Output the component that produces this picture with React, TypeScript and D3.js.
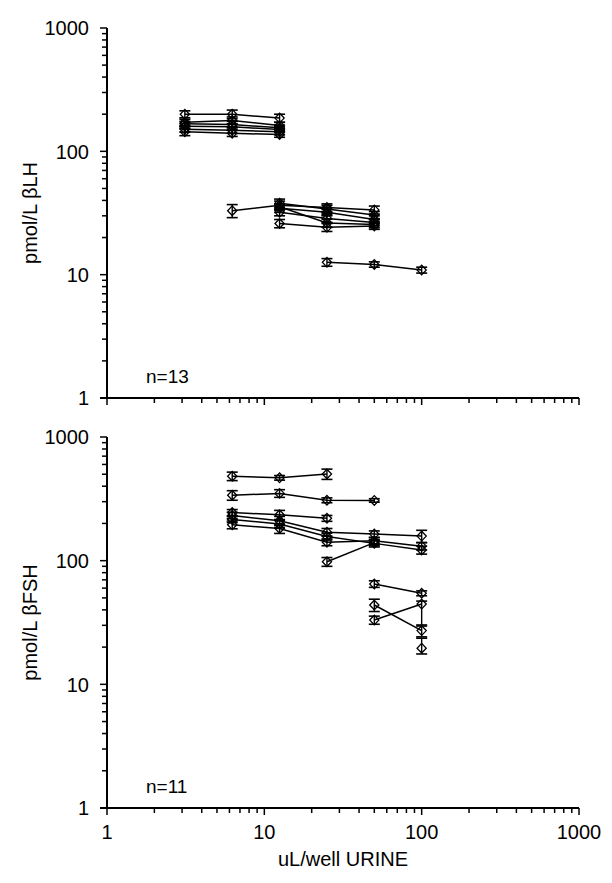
import React from "react";
import * as d3 from "d3";

// Dose levels (uL/well urine)
const doses = [3.125, 6.25, 12.5, 25, 50, 100];

// Panel A: pmol/L betaLH (n=13), values aligned with `doses` (null = not measured)
const lhMeans: (number | null)[][] = [
  [200, 200, 186, null, null, null],
  [172, 178, 162, null, null, null],
  [167, 165, 155, null, null, null],
  [160, 158, 150, null, null, null],
  [151, 148, 144, null, null, null],
  [144, 140, 137, null, null, null],
  [null, 33, 36.5, 35, 33.5, null],
  [null, null, 38, 34, 30.5, null],
  [null, null, 34.5, 32, 28, null],
  [null, null, 32, 28.6, 26.5, null],
  [null, null, 35.5, 26.2, 25.5, null],
  [null, null, 26, 24.2, 24.8, null],
  [null, null, null, 12.6, 12.1, 10.9],
];
const lhErrors: (number | null)[][] = [
  [13, 16, 14, null, null, null],
  [10, 12, 10, null, null, null],
  [8, 10, 8, null, null, null],
  [8, 9, 8, null, null, null],
  [8, 8, 8, null, null, null],
  [10, 8, 7, null, null, null],
  [null, 4, 3, 2.5, 2.5, null],
  [null, null, 3, 2.5, 2, null],
  [null, null, 2.5, 2, 2, null],
  [null, null, 2, 2, 1.5, null],
  [null, null, 2, 2, 1.5, null],
  [null, null, 2, 1.8, 1.5, null],
  [null, null, null, 0.9, 0.6, 0.6],
];

// Panel B: pmol/L betaFSH (n=11)
const fshMeans: (number | null)[][] = [
  [null, 482, 468, 502, null, null],
  [null, 338, 350, 308, 307, null],
  [null, 245, 235, 220, null, null],
  [null, 232, 210, 170, 164, 158],
  [null, 215, 198, 157, 138, 122],
  [null, 195, 182, 141, 145, 131],
  [null, null, null, 98, 140, null],
  [null, null, null, null, 64.8, 54.5],
  [null, null, null, null, 43.8, 27.2],
  [null, null, null, null, 33.1, 44.6],
  [null, null, null, null, null, 19.6],
];
// [lower, upper] error extents
const fshErrors: ([number, number] | null)[][] = [
  [null, [38, 38], [20, 20], [48, 48], null, null],
  [null, [30, 30], [25, 25], [14, 14], [10, 10], null],
  [null, [14, 14], [20, 20], [12, 12], null, null],
  [null, [14, 14], [18, 18], [12, 12], [10, 10], [18, 18]],
  [null, [12, 12], [14, 14], [10, 10], [9, 9], [9, 9]],
  [null, [14, 14], [16, 16], [9, 9], [9, 9], [9, 9]],
  [null, null, null, [8, 8], [8, 8], null],
  [null, null, null, null, [4, 4], [2.5, 2.5]],
  [null, null, null, null, [5, 5], [3, 3]],
  [null, null, null, null, [2.5, 2.5], [15, 2.5]],
  [null, null, null, null, null, [2, 4]],
];

const yTickValues = [1, 10, 100, 1000];
const xTickValues = [1, 10, 100, 1000];
const FONT = "'Liberation Sans', Arial, Helvetica, sans-serif";

const x = d3.scaleLog().domain([1, 1000]).range([107, 579]);

type ErrSpec = number | [number, number] | null;

function Panel(props: {
  top: number;
  bottom: number;
  means: (number | null)[][];
  errors: ErrSpec[][];
  yLabel: string;
  nLabel: string;
  showXLabels: boolean;
}) {
  const { top, bottom, means, errors, yLabel, nLabel, showXLabels } = props;
  const y = d3.scaleLog().domain([1, 1000]).range([bottom, top]);
  const [x0, x1] = x.range();
  const isMajor = (v: number) => Math.abs(Math.log10(v) - Math.round(Math.log10(v))) < 1e-9;
  const line = d3
    .line<[number, number]>()
    .x((d) => x(d[0]))
    .y((d) => y(d[1]));

  return (
    <g>
      {/* series */}
      {means.map((row, si) => {
        const pts: [number, number][] = [];
        row.forEach((v, i) => {
          if (v != null) pts.push([doses[i], v]);
        });
        return (
          <g key={si}>
            <path d={line(pts) || ""} fill="none" stroke="#000" strokeWidth={1.5} />
            {row.map((v, i) => {
              if (v == null) return null;
              const e = errors[si][i];
              let lo = 0,
                hi = 0;
              if (e != null) {
                if (Array.isArray(e)) {
                  lo = e[0];
                  hi = e[1];
                } else {
                  lo = e;
                  hi = e;
                }
              }
              const cx = x(doses[i]);
              const cy = y(v);
              const yLo = y(v - lo);
              const yHi = y(v + hi);
              const cw = 5.5;
              return (
                <g key={i}>
                  <line x1={cx} x2={cx} y1={yLo} y2={yHi} stroke="#000" strokeWidth={1.4} />
                  <line x1={cx - cw} x2={cx + cw} y1={yLo} y2={yLo} stroke="#000" strokeWidth={1.6} />
                  <line x1={cx - cw} x2={cx + cw} y1={yHi} y2={yHi} stroke="#000" strokeWidth={1.6} />
                  <path
                    d={`M${cx},${cy - 4.8}L${cx + 4.6},${cy}L${cx},${cy + 4.8}L${cx - 4.6},${cy}Z`}
                    fill="none"
                    stroke="#000"
                    strokeWidth={1.3}
                  />
                </g>
              );
            })}
          </g>
        );
      })}

      {/* y axis */}
      <line x1={x0} x2={x0} y1={top} y2={bottom} stroke="#000" strokeWidth={2} />
      {y.ticks().map((t, i) => (
        <line
          key={"yt" + i}
          x1={x0 - (isMajor(t) ? 7 : 5)}
          x2={x0}
          y1={y(t)}
          y2={y(t)}
          stroke="#000"
          strokeWidth={1.5}
        />
      ))}
      {yTickValues.map((t) => (
        <text
          key={"yl" + t}
          x={89}
          y={y(t)}
          dy="0.36em"
          textAnchor="end"
          fontFamily={FONT}
          fontSize={20}
          fill="#000"
        >
          {t}
        </text>
      ))}

      {/* x axis */}
      <line x1={x0 - 7} x2={x1} y1={bottom} y2={bottom} stroke="#000" strokeWidth={2} />
      {x.ticks().map((t, i) => (
        <line
          key={"xt" + i}
          x1={x(t)}
          x2={x(t)}
          y1={bottom}
          y2={bottom + (isMajor(t) ? 7 : 5)}
          stroke="#000"
          strokeWidth={1.5}
        />
      ))}
      {showXLabels &&
        xTickValues.map((t) => (
          <text
            key={"xl" + t}
            x={x(t)}
            y={bottom + 31}
            textAnchor="middle"
            fontFamily={FONT}
            fontSize={20}
            fill="#000"
          >
            {t}
          </text>
        ))}

      {/* y label */}
      <text
        transform={`translate(37,${(top + bottom) / 2}) rotate(-90)`}
        textAnchor="middle"
        fontFamily={FONT}
        fontSize={20}
        fill="#000"
      >
        {yLabel}
      </text>

      {/* n label */}
      <text x={146} y={bottom - 15} fontFamily={FONT} fontSize={19} fill="#000">
        {nLabel}
      </text>
    </g>
  );
}

export default function App() {
  return (
    <svg
      width={612}
      height={883}
      viewBox="0 0 612 883"
      style={{ position: "absolute", left: 0, top: 0, display: "block", background: "#fff" }}
    >
      <rect x={0} y={0} width={612} height={883} fill="#fff" />
      <Panel
        top={28}
        bottom={398}
        means={lhMeans}
        errors={lhErrors}
        yLabel="pmol/L βLH"
        nLabel="n=13"
        showXLabels={false}
      />
      <Panel
        top={437}
        bottom={808}
        means={fshMeans}
        errors={fshErrors}
        yLabel="pmol/L βFSH"
        nLabel="n=11"
        showXLabels={true}
      />
      <text x={343} y={866} textAnchor="middle" fontFamily={FONT} fontSize={20} fill="#000">
        uL/well URINE
      </text>
    </svg>
  );
}
